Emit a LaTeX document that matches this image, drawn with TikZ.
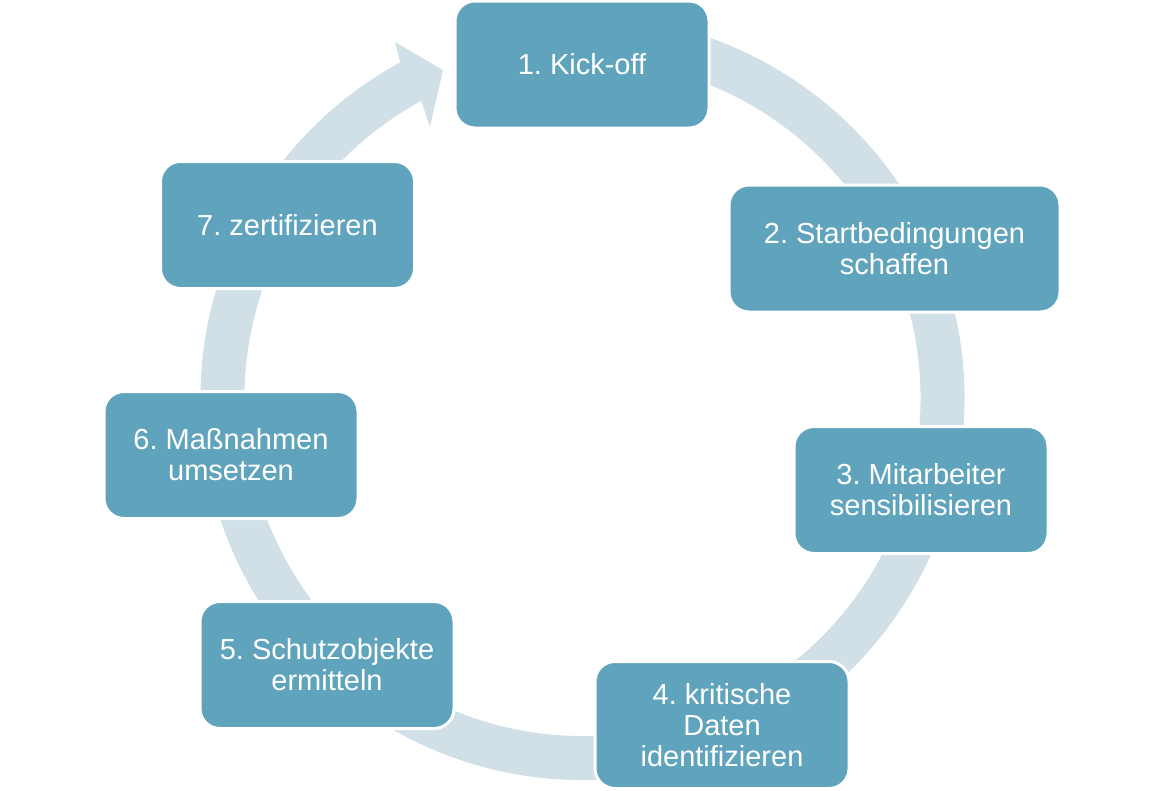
\documentclass[tikz,border=0pt]{standalone}
\usepackage{fontspec}
\setmainfont{Liberation Sans}
\usetikzlibrary{calc}
\frenchspacing
\definecolor{boxblue}{HTML}{60A3BD}
\definecolor{ringcol}{HTML}{D1E0E7}
\tikzset{
  stepbox/.style={draw=white, line width=3, fill=boxblue, rounded corners=20,
    minimum width=254, minimum height=127, inner sep=0pt, align=center,
    text=white, font=\frenchspacing\fontsize{29}{31}\selectfont},
}
\begin{document}
\begin{tikzpicture}[x=1pt,y=-1pt]
\useasboundingbox (0,0) rectangle (1164,790);
\coordinate (C) at (582.5,398);
% circular band with arrowhead
\fill[ringcol] ($(C)+(-100:382)$) arc[start angle=-100, end angle=241.5, radius=382]
  -- (395,42) -- (443,70) -- (430,127)
  -- ($(C)+(241.5:338)$) arc[start angle=241.5, end angle=-100, radius=338] -- cycle;
% boxes
\node[stepbox] (s1) at (582,64.5) {1. Kick-off};
\node[stepbox, minimum width=331] (s2) at (894.5,248.5) {2. Startbedingungen\\schaffen};
\node[stepbox] (s3) at (921,490) {3. Mitarbeiter\\sensibilisieren};
\node[stepbox] (s4) at (722,725) {4. kritische\\Daten\\identifizieren};
\node[stepbox] (s5) at (327,665) {5. Schutzobjekte\\ermitteln};
\node[stepbox] (s6) at (231,455) {6. Maßnahmen\\umsetzen};
\node[stepbox] (s7) at (287.5,225) {7. zertifizieren};
\end{tikzpicture}
\end{document}
